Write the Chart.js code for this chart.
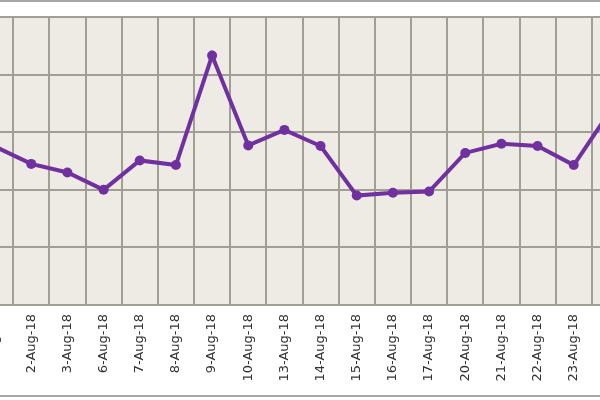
<!DOCTYPE html>
<html>
<head>
<meta charset="utf-8">
<script src="https://cdn.jsdelivr.net/npm/chart.js@4/dist/chart.umd.min.js"></script>
<style>
  html, body { margin: 0; padding: 0; background: #fff; overflow: hidden; }
  #wrap { position: relative; width: 600px; height: 400px; overflow: hidden; }
  #chart { position: absolute; left: -39px; top: 0; }
  .rule { position: absolute; left: 0; width: 600px; height: 2px; background: #a6a6a6; }
</style>
</head>
<body>
<div id="wrap">
  <canvas id="chart" width="700" height="400"></canvas>
  <div class="rule" style="top:0"></div>
  <div class="rule" style="top:395px"></div>
</div>
<script>
// dates shown on the x axis
var dates = ['1-Aug-18', '2-Aug-18', '3-Aug-18', '6-Aug-18', '7-Aug-18', '8-Aug-18',
    '9-Aug-18', '10-Aug-18', '13-Aug-18', '14-Aug-18', '15-Aug-18', '16-Aug-18',
    '17-Aug-18', '20-Aug-18', '21-Aug-18', '22-Aug-18', '23-Aug-18', '24-Aug-18'];
// values (y axis is cut off, so units are relative)
var values = [2.75, 2.45, 2.30, 2.00, 2.51, 2.43, 4.33, 2.77, 3.04, 2.76,
    1.90, 1.95, 1.97, 2.64, 2.80, 2.76, 2.43, 3.36];
var yMin = 0;
var yMax = 5;
var yStep = 1;

var purple = '#7030a0';
var gridColor = '#a19e95';

// paint the plot area background
var plotBg = {
    id: 'plotBg',
    beforeDraw: function (chart) {
        var a = chart.chartArea;
        var ctx = chart.ctx;
        ctx.save();
        ctx.fillStyle = '#edebe3';
        ctx.fillRect(a.left, a.top, a.right - a.left, a.bottom - a.top);
        ctx.restore();
    }
};

var ctx = document.getElementById('chart').getContext('2d');
var myChart = new Chart(ctx, {
    type: 'line',
    data: {
        labels: dates,
        datasets: [{
            data: values,
            borderColor: purple,
            backgroundColor: purple,
            borderWidth: 4,
            pointRadius: 5,
            pointBackgroundColor: purple,
            pointBorderWidth: 0,
            tension: 0
        }]
    },
    options: {
        responsive: false,
        animation: false,
        layout: { padding: { left: 16, right: 33, top: 17, bottom: 0 } },
        plugins: {
            legend: { display: false },
            tooltip: { enabled: false }
        },
        scales: {
            x: {
                offset: true,
                grid: { color: gridColor, lineWidth: 2, drawTicks: false, offset: true },
                border: { display: false },
                ticks: {
                    autoSkip: false,
                    minRotation: 90,
                    maxRotation: 90,
                    padding: 9,
                    color: '#333',
                    font: { family: 'DejaVu Sans', size: 13 }
                },
                afterFit: function (s) { s.height = 95; }
            },
            y: {
                min: yMin,
                max: yMax,
                grid: { color: gridColor, lineWidth: 2, drawTicks: false },
                border: { display: false },
                ticks: { display: false, stepSize: yStep }
            }
        }
    },
    plugins: [plotBg]
});
</script>
</body>
</html>
